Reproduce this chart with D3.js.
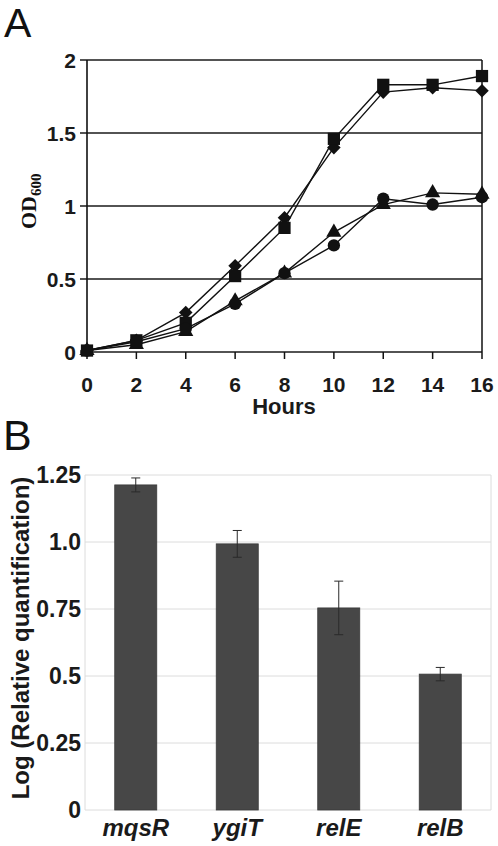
<!DOCTYPE html>
<html>
<head>
<meta charset="utf-8">
<script src="https://cdn.jsdelivr.net/npm/d3@7"></script>
<style>
  html, body { margin: 0; padding: 0; background: #fff; }
  svg { display: block; }
</style>
</head>
<body>
<svg id="chart" width="498" height="846"></svg>
<script>
// ---------- Panel A data ----------
const hours = [0, 2, 4, 6, 8, 10, 12, 14, 16];
const squares   = [0.01, 0.08, 0.20, 0.52, 0.85, 1.46, 1.83, 1.83, 1.89];
const diamonds  = [0.01, 0.08, 0.27, 0.59, 0.92, 1.40, 1.78, 1.81, 1.79];
const triangles = [0.01, 0.05, 0.14, 0.35, 0.54, 0.82, 1.01, 1.09, 1.08];
const circles   = [0.01, 0.07, 0.16, 0.33, 0.54, 0.73, 1.05, 1.01, 1.06];
const aYTicks = [0, 0.5, 1, 1.5, 2];
const aYTickLabels = ["0", "0.5", "1", "1.5", "2"];
const aXTicks = [0, 2, 4, 6, 8, 10, 12, 14, 16];

// ---------- Panel B data ----------
const genes = ["mqsR", "ygiT", "relE", "relB"];
const logRQ = [1.213, 0.993, 0.754, 0.507];
const logRQErr = [0.026, 0.05, 0.1, 0.025];
const bYTicks = [0, 0.25, 0.5, 0.75, 1.0, 1.25];
const bYTickLabels = ["0", "0.25", "0.5", "0.75", "1.0", "1.25"];

const svg = d3.select("#chart");

// ================= Panel A =================
const ax = d3.scaleLinear().domain([0, 16]).range([87, 482]);
const ay = d3.scaleLinear().domain([0, 2]).range([352, 60]);

svg.append("text").attr("x", 4).attr("y", 37)
  .attr("font-family", "Liberation Sans, Arial, sans-serif")
  .attr("font-size", 41).attr("fill", "#111").text("A");

const gA = svg.append("g");

// horizontal gridlines (with tick extending left of axis)
gA.selectAll("line.grid").data(aYTicks).join("line")
  .attr("x1", 80).attr("x2", 482)
  .attr("y1", d => ay(d)).attr("y2", d => ay(d))
  .attr("stroke", "#1a1a1a").attr("stroke-width", 1.5);

// left axis & right border
gA.append("line").attr("x1", 87).attr("x2", 87).attr("y1", ay(2)).attr("y2", ay(0))
  .attr("stroke", "#111").attr("stroke-width", 1.6);
gA.append("line").attr("x1", 482).attr("x2", 482).attr("y1", ay(2)).attr("y2", ay(0))
  .attr("stroke", "#111").attr("stroke-width", 1.5);

// x ticks
gA.selectAll("line.xt").data(aXTicks).join("line")
  .attr("x1", d => ax(d)).attr("x2", d => ax(d))
  .attr("y1", ay(0)).attr("y2", ay(0) + 7)
  .attr("stroke", "#111").attr("stroke-width", 1.5);

// y tick labels
gA.selectAll("text.yl").data(aYTicks).join("text")
  .attr("x", 76).attr("y", d => ay(d) + 7.5)
  .attr("text-anchor", "end")
  .attr("font-family", "Liberation Sans, Arial, sans-serif")
  .attr("font-weight", "bold").attr("font-size", 21).attr("fill", "#1a1a1a")
  .text((d, i) => aYTickLabels[i]);

// x tick labels
gA.selectAll("text.xl").data(aXTicks).join("text")
  .attr("x", d => ax(d)).attr("y", 392)
  .attr("text-anchor", "middle")
  .attr("font-family", "Liberation Sans, Arial, sans-serif")
  .attr("font-weight", "bold").attr("font-size", 21).attr("fill", "#1a1a1a")
  .text(d => d);

// x title
svg.append("text").attr("x", 284).attr("y", 414)
  .attr("text-anchor", "middle")
  .attr("font-family", "Liberation Sans, Arial, sans-serif")
  .attr("font-weight", "bold").attr("font-size", 22).attr("fill", "#1a1a1a")
  .text("Hours");

// y title OD600
const odT = svg.append("text")
  .attr("transform", "translate(36,229) rotate(-90)")
  .attr("font-family", "Liberation Serif, Times New Roman, serif")
  .attr("font-weight", "bold").attr("font-size", 22).attr("fill", "#111");
odT.append("tspan").text("OD");
odT.append("tspan").attr("font-size", 15).attr("dy", 5).text("600");

// series lines
const line = d3.line().x((d, i) => ax(hours[i])).y(d => ay(d));
const seriesList = [
  { vals: diamonds, shape: "diamond" },
  { vals: squares, shape: "square" },
  { vals: triangles, shape: "triangle" },
  { vals: circles, shape: "circle" }
];
seriesList.forEach(s => {
  gA.append("path").attr("d", line(s.vals))
    .attr("fill", "none").attr("stroke", "#111").attr("stroke-width", 1.4);
});
const symMap = {
  diamond: d3.symbol().type(d3.symbolSquare).size(92),
  square: d3.symbol().type(d3.symbolSquare).size(150),
  triangle: d3.symbol().type(d3.symbolTriangle).size(100),
  circle: d3.symbol().type(d3.symbolCircle).size(120)
};
seriesList.forEach(s => {
  gA.selectAll(null).data(s.vals).join("path")
    .attr("d", symMap[s.shape]())
    .attr("transform", (d, i) => `translate(${ax(hours[i])},${ay(d)})` + (s.shape === "diamond" ? " rotate(45)" : ""))
    .attr("fill", "#111");
});

// ================= Panel B =================
svg.append("text").attr("x", 3).attr("y", 450)
  .attr("font-family", "Liberation Sans, Arial, sans-serif")
  .attr("font-size", 43).attr("fill", "#111").text("B");

const bx = d3.scaleBand().domain(genes).range([85, 491])
  .paddingInner(0.586).paddingOuter(0.293);
const by = d3.scaleLinear().domain([0, 1.25]).range([810, 475]);

const gB = svg.append("g");
gB.selectAll("line.bg").data(bYTicks).join("line")
  .attr("x1", 85).attr("x2", 491)
  .attr("y1", d => by(d)).attr("y2", d => by(d))
  .attr("stroke", "#dcdcdc").attr("stroke-width", 1);
gB.append("line").attr("x1", 85).attr("x2", 85).attr("y1", by(1.25)).attr("y2", by(0))
  .attr("stroke", "#dcdcdc").attr("stroke-width", 1);
gB.append("line").attr("x1", 491).attr("x2", 491).attr("y1", by(1.25)).attr("y2", by(0))
  .attr("stroke", "#dcdcdc").attr("stroke-width", 1);

gB.selectAll("text.byl").data(bYTicks).join("text")
  .attr("x", 81).attr("y", d => by(d) + 8)
  .attr("text-anchor", "end")
  .attr("font-family", "Liberation Sans, Arial, sans-serif")
  .attr("font-weight", "bold").attr("font-size", 23).attr("fill", "#1a1a1a")
  .text((d, i) => bYTickLabels[i]);

gB.selectAll("rect.bar").data(genes).join("rect")
  .attr("x", d => bx(d)).attr("width", bx.bandwidth())
  .attr("y", (d, i) => by(logRQ[i]))
  .attr("height", (d, i) => by(0) - by(logRQ[i]))
  .attr("fill", "#474747").attr("stroke", "#3a3a3a").attr("stroke-width", 0.8);

// error bars
genes.forEach((g, i) => {
  const cx = bx(g) + bx.bandwidth() / 2;
  const hi = by(logRQ[i] + logRQErr[i]), lo = by(logRQ[i] - logRQErr[i]);
  gB.append("line").attr("x1", cx).attr("x2", cx).attr("y1", hi).attr("y2", lo)
    .attr("stroke", "#2a2a2a").attr("stroke-width", 1);
  [hi, lo].forEach(yv => {
    gB.append("line").attr("x1", cx - 4.5).attr("x2", cx + 4.5).attr("y1", yv).attr("y2", yv)
      .attr("stroke", "#2a2a2a").attr("stroke-width", 1);
  });
});

gB.selectAll("text.bxl").data(genes).join("text")
  .attr("x", d => bx(d) + bx.bandwidth() / 2).attr("y", 836)
  .attr("text-anchor", "middle")
  .attr("font-family", "Liberation Sans, Arial, sans-serif")
  .attr("font-weight", "bold").attr("font-style", "italic")
  .attr("font-size", 24).attr("fill", "#1a1a1a")
  .text(d => d);

svg.append("text")
  .attr("transform", "translate(29,638) rotate(-90)")
  .attr("text-anchor", "middle")
  .attr("font-family", "Liberation Sans, Arial, sans-serif")
  .attr("font-weight", "bold").attr("font-size", 24).attr("fill", "#1a1a1a")
  .text("Log (Relative quantification)");
</script>
</body>
</html>
